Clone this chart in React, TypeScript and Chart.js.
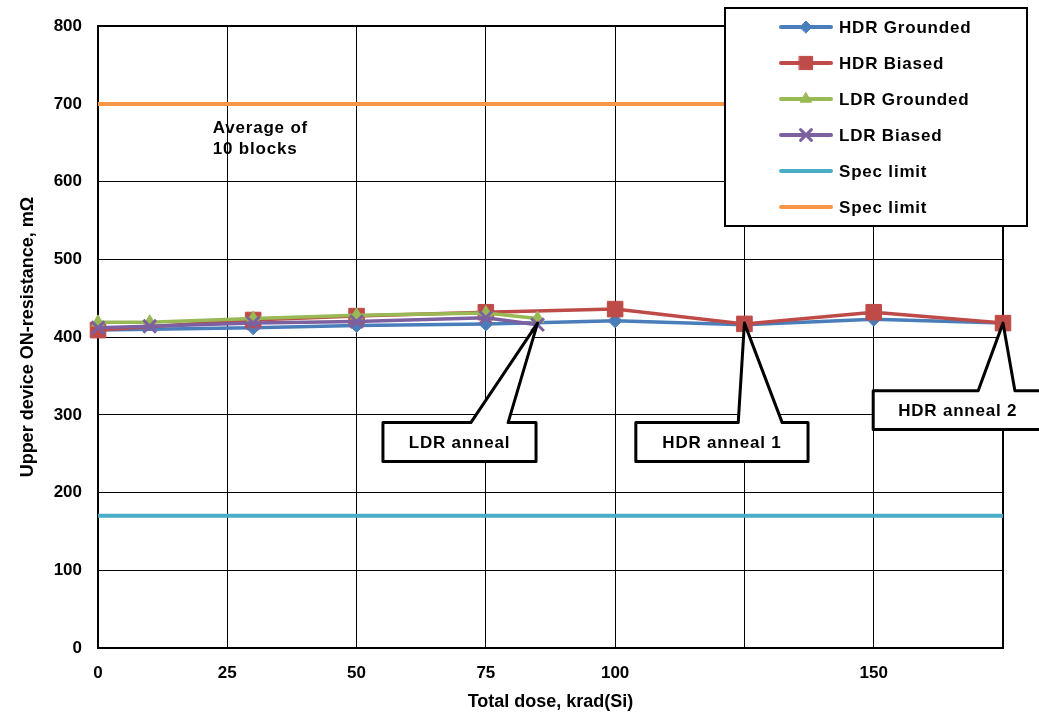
import React, { useEffect, useRef } from 'react';
import { Chart, registerables } from 'chart.js';
import { drawPoint } from 'chart.js/helpers';

Chart.register(...registerables);

// ---- Data ----
const hdrDose = [0, 30, 50, 75, 100, 125, 150, 175];
const hdrGrounded = [409, 412, 415, 417, 421, 416, 423, 418];
const hdrBiased = [409, 422, 427, 432, 436, 417, 432, 418];

const ldrDose = [0, 10, 30, 50, 75, 85];
const ldrGrounded = [419, 419, 424, 428, 431, 424];
const ldrBiased = [412, 414, 418, 420, 425, 416];

const specDose = [0, 175];
const specLow = [170, 170];
const specHigh = [700, 700];

const xTicks = [0, 25, 50, 75, 100, 125, 150, 175];
const xTickLabels = ['0', '25', '50', '75', '100', '', '150', ''];
const yTicks = [0, 100, 200, 300, 400, 500, 600, 700, 800];

const seriesLabels = ['HDR Grounded', 'HDR Biased', 'LDR Grounded', 'LDR Biased', 'Spec limit', 'Spec limit'];

// ---- Annotations (data coordinates) ----
const callouts = [
  { text: 'LDR anneal', tipX: 85, tipY: 418, left: 55.1, right: 84.7, top: 290, bottom: 240, baseL: 72.1, baseR: 79.3 },
  { text: 'HDR anneal 1', tipX: 125, tipY: 418, left: 104, right: 137.3, top: 290, bottom: 240, baseL: 123.8, baseR: 132.3 },
  { text: 'HDR anneal 2', tipX: 175, tipY: 418, left: 149.9, right: 182.6, top: 331, bottom: 281, baseL: 170.2, baseR: 177.3 },
];
const avgNote = { lines: ['Average of', '10 blocks'], x: 22.2, y: [669, 642] };

const FONT = "'Liberation Sans', Arial, sans-serif";
const colors = {
  blue: '#4A7EBB',
  red: '#BE4B48',
  green: '#98B954',
  purple: '#7D60A0',
  cyan: '#4BACC6',
  orange: '#F79646',
};

const toXY = (xs: number[], ys: number[]) => xs.map((x, i) => ({ x, y: ys[i] }));

const annotationPlugin = {
  id: 'annot',
  afterDatasetsDraw(chart: any) {
    const { ctx } = chart;
    const xs = chart.scales.x;
    const ys = chart.scales.y;
    ctx.save();
    ctx.font = `bold 17px ${FONT}`;
    (ctx as any).letterSpacing = '0.8px';
    ctx.fillStyle = '#000';
    ctx.textAlign = 'left';
    ctx.textBaseline = 'middle';
    avgNote.lines.forEach((t, i) => {
      ctx.fillText(t, xs.getPixelForValue(avgNote.x), ys.getPixelForValue(avgNote.y[i]));
    });
    callouts.forEach((c) => {
      const L = xs.getPixelForValue(c.left);
      const R = xs.getPixelForValue(c.right);
      const T = ys.getPixelForValue(c.top);
      const B = ys.getPixelForValue(c.bottom);
      const bL = xs.getPixelForValue(c.baseL);
      const bR = xs.getPixelForValue(c.baseR);
      const tx = xs.getPixelForValue(c.tipX);
      const ty = ys.getPixelForValue(c.tipY);
      ctx.beginPath();
      ctx.moveTo(L, T);
      ctx.lineTo(bL, T);
      ctx.lineTo(tx, ty);
      ctx.lineTo(bR, T);
      ctx.lineTo(R, T);
      ctx.lineTo(R, B);
      ctx.lineTo(L, B);
      ctx.closePath();
      ctx.fillStyle = '#fff';
      ctx.fill();
      ctx.lineWidth = 3;
      ctx.lineJoin = 'round';
      ctx.strokeStyle = '#000';
      ctx.stroke();
      ctx.fillStyle = '#000';
      ctx.textAlign = 'center';
      ctx.textBaseline = 'middle';
      ctx.fillText(c.text, (L + R) / 2, (T + B) / 2 + 1);
    });
    ctx.restore();
  },
};

const legendPlugin = {
  id: 'boxLegend',
  afterDraw(chart: any) {
    const { ctx } = chart;
    const x0 = 725, y0 = 8, w = 302, h = 218;
    ctx.save();
    ctx.fillStyle = '#fff';
    ctx.fillRect(x0, y0, w, h);
    ctx.strokeStyle = '#000';
    ctx.lineWidth = 2;
    ctx.strokeRect(x0, y0, w, h);
    chart.data.datasets.forEach((ds: any, i: number) => {
      const cy = y0 + 19 + i * 36;
      ctx.strokeStyle = ds.borderColor;
      ctx.lineWidth = 4;
      ctx.lineCap = 'round';
      ctx.beginPath();
      ctx.moveTo(781, cy);
      ctx.lineTo(831, cy);
      ctx.stroke();
      if (ds.pointRadius > 0) {
        ctx.fillStyle = ds.pointBackgroundColor;
        ctx.strokeStyle = ds.pointBorderColor;
        ctx.lineWidth = ds.pointBorderWidth;
        drawPoint(ctx, { pointStyle: ds.pointStyle, radius: ds.pointRadius * 0.85, borderWidth: ds.pointBorderWidth, rotation: 0 }, 806, cy);
      }
      ctx.fillStyle = '#000';
      ctx.font = `bold 17px ${FONT}`;
      (ctx as any).letterSpacing = '0.8px';
      ctx.textAlign = 'left';
      ctx.textBaseline = 'middle';
      ctx.fillText(ds.label, 839, cy + 1);
    });
    ctx.restore();
  },
};

const whiteBg = {
  id: 'whiteBg',
  beforeDraw(chart: any) {
    const { ctx } = chart;
    ctx.save();
    ctx.fillStyle = '#fff';
    ctx.fillRect(0, 0, chart.width, chart.height);
    ctx.restore();
  },
};

export default function App() {
  const ref = useRef<HTMLCanvasElement>(null);
  useEffect(() => {
    if (!ref.current) return;
    const marker = (color: string, style: string, radius: number, bw: number) => ({
      borderColor: color,
      backgroundColor: color,
      pointBackgroundColor: color,
      pointBorderColor: color,
      pointStyle: style,
      pointRadius: radius,
      pointBorderWidth: bw,
      pointHoverRadius: radius,
    });
    const chart = new Chart(ref.current, {
      type: 'line',
      data: {
        datasets: [
          { label: seriesLabels[0], data: toXY(hdrDose, hdrGrounded), borderWidth: 3.5, ...marker(colors.blue, 'rectRot', 7, 1), order: 6, clip: false },
          { label: seriesLabels[1], data: toXY(hdrDose, hdrBiased), borderWidth: 3.5, ...marker(colors.red, 'rect', 11, 1), order: 5, clip: false },
          { label: seriesLabels[2], data: toXY(ldrDose, ldrGrounded), borderWidth: 3.5, ...marker(colors.green, 'triangle', 7.5, 1), order: 4, clip: false },
          { label: seriesLabels[3], data: toXY(ldrDose, ldrBiased), borderWidth: 3.5, ...marker(colors.purple, 'crossRot', 9, 3), order: 3, clip: false },
          { label: seriesLabels[4], data: toXY(specDose, specLow), borderWidth: 4, ...marker(colors.cyan, 'circle', 0, 0), order: 8, clip: false },
          { label: seriesLabels[5], data: toXY(specDose, specHigh), borderWidth: 4, ...marker(colors.orange, 'circle', 0, 0), order: 7, clip: false },
        ] as any,
      },
      options: {
        responsive: false,
        devicePixelRatio: 1,
        animation: false,
        layout: { padding: { top: 24, right: 36, left: 0, bottom: 0 } },
        plugins: { legend: { display: false }, tooltip: { enabled: false } },
        elements: { line: { tension: 0 } },
        scales: {
          x: {
            type: 'linear',
            min: 0,
            max: 175,
            afterBuildTicks: (s: any) => { s.ticks = xTicks.map((v) => ({ value: v })); },
            afterFit: (s: any) => { s.height = 67; },
            ticks: {
              autoSkip: false,
              maxRotation: 0,
              padding: 15,
              color: '#000',
              font: { family: FONT, size: 17, weight: 'bold' },
              callback: (_v: any, i: number) => xTickLabels[i],
            },
            grid: {
              color: '#000',
              lineWidth: (c: any) => (c.tick && c.tick.value === 175 ? 2 : 1),
              drawTicks: false,
              tickLength: 0,
            },
            border: { color: '#000', width: 2 },
            title: {
              display: true,
              text: 'Total dose, krad(Si)',
              color: '#000',
              font: { family: FONT, size: 18, weight: 'bold' },
              padding: { top: 0, bottom: 2 },
            },
          },
          y: {
            type: 'linear',
            min: 0,
            max: 800,
            afterBuildTicks: (s: any) => { s.ticks = yTicks.map((v) => ({ value: v })); },
            afterFit: (s: any) => { s.width = 98; },
            ticks: {
              padding: 16,
              color: '#000',
              font: { family: FONT, size: 17, weight: 'bold' },
              callback: (v: any) => String(v),
            },
            grid: {
              color: '#000',
              lineWidth: (c: any) => (c.tick && c.tick.value === 800 ? 2 : 1),
              drawTicks: false,
              tickLength: 0,
            },
            border: { color: '#000', width: 2 },
            title: {
              display: true,
              text: 'Upper device ON-resistance, mΩ',
              color: '#000',
              font: { family: FONT, size: 18, weight: 'bold' },
              padding: { top: 17, bottom: 0 },
            },
          },
        },
      } as any,
      plugins: [whiteBg, annotationPlugin, legendPlugin],
    });
    return () => chart.destroy();
  }, []);
  return (
    <div style={{ position: 'fixed', left: 0, top: 0, width: 1039, height: 715, background: '#fff' }}>
      <canvas ref={ref} width={1039} height={715} style={{ display: 'block' }} />
    </div>
  );
}
